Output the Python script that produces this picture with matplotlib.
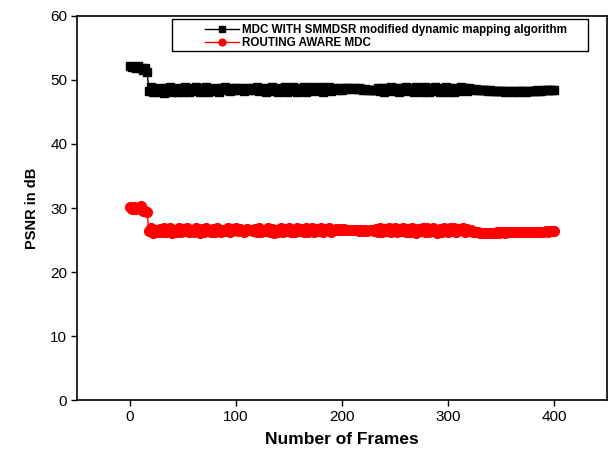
import matplotlib
matplotlib.use("Agg")
import matplotlib.pyplot as plt
from matplotlib.patches import Rectangle

plt.rcParams['font.family'] = ['Liberation Sans', 'DejaVu Sans']

frames = list(range(0, 401, 2))

mdc_smmdsr = [
    52.2, 52.0, 52.1, 51.8, 52.2, 51.9, 51.6, 51.8, 51.3,
    48.3, 48.9, 48.1, 48.6, 48.2, 48.8, 48.4, 48.0, 48.7, 48.3,
    48.9, 48.2, 48.6, 48.1, 48.8, 48.5, 48.2, 48.9, 48.4, 48.1,
    48.7, 48.3, 48.9, 48.5, 48.1, 48.8, 48.4, 48.9, 48.2, 48.6,
    48.3, 48.8, 48.5, 48.2, 48.7, 48.4, 48.9, 48.6, 48.3, 48.8,
    48.5, 48.7, 48.4, 48.8, 48.6, 48.3, 48.7, 48.5, 48.8, 48.4,
    48.6, 48.9, 48.3, 48.7, 48.5, 48.2, 48.8, 48.4, 48.9, 48.3,
    48.6, 48.1, 48.8, 48.4, 48.9, 48.2, 48.7, 48.3, 48.9, 48.5,
    48.1, 48.8, 48.4, 48.9, 48.2, 48.7, 48.5, 48.9, 48.3, 48.8,
    48.4, 48.9, 48.2, 48.7, 48.5, 48.9, 48.3, 48.8, 48.6, 48.4,
    48.8, 48.5, 48.7, 48.6, 48.7, 48.7, 48.6, 48.7, 48.6, 48.7,
    48.6, 48.5, 48.6, 48.5, 48.4, 48.5, 48.4, 48.4, 48.7, 48.3,
    48.8, 48.2, 48.7, 48.4, 48.9, 48.3, 48.6, 48.8, 48.2, 48.7,
    48.4, 48.9, 48.3, 48.8, 48.5, 48.1, 48.9, 48.4, 48.7, 48.2,
    48.9, 48.5, 48.1, 48.8, 48.3, 48.9, 48.6, 48.2, 48.8, 48.4,
    48.9, 48.2, 48.7, 48.5, 48.1, 48.8, 48.3, 48.9, 48.5, 48.7,
    48.3, 48.8, 48.6, 48.5, 48.6, 48.4, 48.5, 48.4, 48.4, 48.4,
    48.3, 48.4, 48.3, 48.3, 48.3, 48.3, 48.3, 48.3, 48.2, 48.3,
    48.3, 48.2, 48.3, 48.3, 48.2, 48.3, 48.3, 48.3, 48.2, 48.3,
    48.3, 48.3, 48.3, 48.4, 48.3, 48.3, 48.4, 48.4, 48.4, 48.4,
    48.4, 48.4,
]

routing_aware = [
    30.1, 29.9, 30.2, 29.8, 30.0, 30.3, 29.6, 29.5, 29.3,
    26.4, 26.8, 26.1, 26.6, 26.2, 26.7, 26.3, 26.9, 26.2, 26.5,
    26.8, 26.1, 26.6, 26.3, 26.8, 26.2, 26.7, 26.4, 26.9, 26.3,
    26.6, 26.2, 26.8, 26.4, 26.1, 26.7, 26.3, 26.9, 26.5, 26.2,
    26.7, 26.3, 26.8, 26.5, 26.2, 26.6, 26.4, 26.8, 26.3, 26.7,
    26.5, 26.8, 26.4, 26.7, 26.6, 26.3, 26.7, 26.5, 26.6, 26.4,
    26.7, 26.3, 26.8, 26.2, 26.6, 26.4, 26.9, 26.3, 26.7, 26.1,
    26.6, 26.3, 26.8, 26.2, 26.7, 26.4, 26.9, 26.3, 26.6, 26.2,
    26.8, 26.4, 26.7, 26.2, 26.9, 26.3, 26.6, 26.8, 26.2, 26.7,
    26.4, 26.9, 26.3, 26.7, 26.5, 26.8, 26.3, 26.6, 26.7, 26.5,
    26.7, 26.6, 26.7, 26.6, 26.6, 26.5, 26.6, 26.5, 26.5, 26.4,
    26.5, 26.4, 26.5, 26.4, 26.5, 26.6, 26.4, 26.7, 26.3, 26.8,
    26.2, 26.7, 26.4, 26.9, 26.3, 26.6, 26.8, 26.2, 26.7, 26.4,
    26.9, 26.3, 26.7, 26.2, 26.8, 26.5, 26.1, 26.7, 26.4, 26.9,
    26.3, 26.8, 26.2, 26.6, 26.9, 26.4, 26.1, 26.7, 26.3, 26.8,
    26.5, 26.2, 26.8, 26.4, 26.9, 26.3, 26.7, 26.5, 26.8, 26.2,
    26.7, 26.4, 26.6, 26.3, 26.2, 26.2, 26.1, 26.1, 26.1, 26.1,
    26.1, 26.1, 26.1, 26.1, 26.2, 26.1, 26.2, 26.2, 26.1, 26.2,
    26.2, 26.2, 26.2, 26.2, 26.2, 26.2, 26.2, 26.2, 26.3, 26.2,
    26.3, 26.3, 26.3, 26.3, 26.3, 26.3, 26.3, 26.4, 26.3, 26.4,
    26.4, 26.4,
]

labels = ["MDC WITH SMMDSR modified dynamic mapping algorithm",
          "ROUTING AWARE MDC"]
x_ticks = [0, 100, 200, 300, 400]
y_ticks = [0, 10, 20, 30, 40, 50, 60]

fig = plt.figure(figsize=(6.14, 4.54), dpi=100)
ax = fig.add_axes([0.1254, 0.1189, 0.8632, 0.8459])

ax.plot(frames, mdc_smmdsr, color='black', marker='s', markersize=6.2,
        linewidth=1, label=labels[0])
ax.plot(frames, routing_aware, color='red', marker='o', markersize=7,
        linewidth=1, label=labels[1])

ax.set_xlim(-50, 450)
ax.set_ylim(0, 60)
ax.set_xticks(x_ticks)
ax.set_yticks(y_ticks)
ax.tick_params(axis='both', direction='out', length=4, width=1,
               labelsize=11, pad=3)
ax.tick_params(top=False, right=False)
for s in ax.spines.values():
    s.set_linewidth(1.2)

ax.set_xlabel("Number of Frames", fontsize=12.5, fontweight='bold', labelpad=6)
ax.set_ylabel("PSNR in dB", fontsize=10.5, fontweight='bold', labelpad=8)

rect = Rectangle((0.179, 0.909), 0.785, 0.083, transform=ax.transAxes,
                 fill=False, edgecolor='black', linewidth=1, zorder=5)
ax.add_patch(rect)
leg = ax.legend(loc='upper left', bbox_to_anchor=(0.241, 0.98),
                frameon=False, prop={'size': 8.4, 'weight': 'bold'},
                handlelength=2.9, handletextpad=0.3, labelspacing=0.12,
                borderpad=0, borderaxespad=0, markerscale=0.7)

fig.savefig("out.png", dpi=100)
